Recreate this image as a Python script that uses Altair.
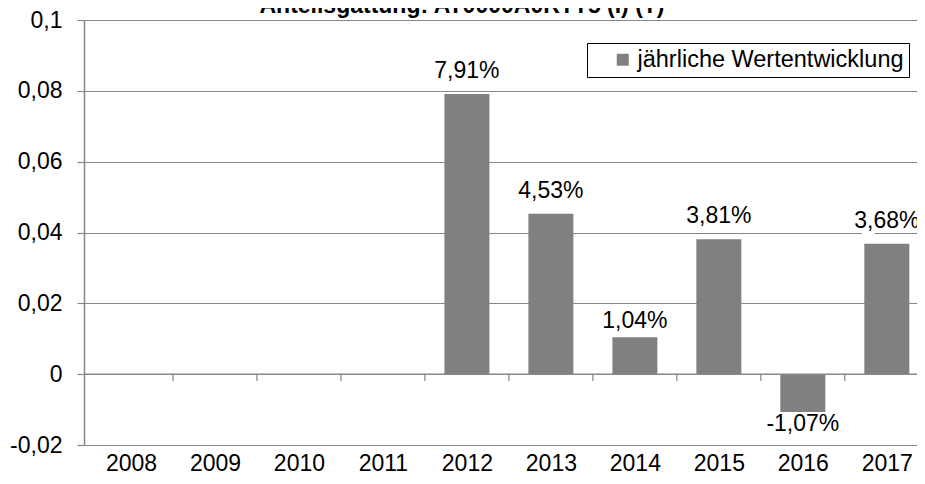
import altair as alt
import pandas as pd

# ---- data ----
years = [2008, 2009, 2010, 2011, 2012, 2013, 2014, 2015, 2016, 2017]
values = [None, None, None, None, 0.0791, 0.0453, 0.0104, 0.0381, -0.0107, 0.0368]
series_name = "jährliche Wertentwicklung"
title_text = "Anteilsgattung: AT0000A0RTT5 (I) (T)"
y_ticks = [-0.02, 0, 0.02, 0.04, 0.06, 0.08, 0.1]

FONT = "Liberation Sans"
GREY = "#878787"
BAR = "#808080"

PLOT_W = 833
STEP = 85

df = pd.DataFrame({"year": years, "value": values})
df["series"] = series_name
df["label"] = [
    (f"{v * 100:.2f}%".replace(".", ",") if v is not None else "") for v in values
]
bars_df = df.dropna(subset=["value"])

# one year = 85 px; the last category runs to the right edge of the page
x_scale = alt.Scale(domain=[2007.5, 2007.5 + PLOT_W / STEP], nice=False, zero=False)
x_enc = alt.X(
    "year:Q",
    scale=x_scale,
    axis=alt.Axis(
        values=years, format="d", labelFlush=False, labelOverlap=False,
        domain=False, ticks=False, grid=False, labelPadding=7,
        labelFontSize=23, labelFont=FONT, labelColor="black", title=None,
    ),
)
y_scale = alt.Scale(domain=[-0.02, 0.1], nice=False, zero=False)

bars = alt.Chart(bars_df).mark_bar(width=45).encode(
    x=x_enc,
    y=alt.Y(
        "value:Q",
        scale=y_scale,
        axis=alt.Axis(
            values=y_ticks,
            labelExpr="replace(toString(datum.value), '.', ',')",
            grid=True, gridColor=GREY, gridWidth=1.2,
            domainColor=GREY, domainWidth=1.5,
            tickColor=GREY, tickSize=7, tickWidth=1.2,
            labelPadding=15, labelFontSize=23, labelFont=FONT, labelColor="black",
            title=None,
        ),
    ),
    color=alt.Color(
        "series:N",
        scale=alt.Scale(range=[BAR]),
        legend=alt.Legend(
            title=None, orient="none", legendX=503, legendY=23,
            strokeColor="black", fillColor="white", padding=5,
            symbolType="square", symbolSize=144, symbolOffset=19,
            symbolStrokeWidth=0, labelOffset=3, labelLimit=500,
            labelFontSize=23.5, labelFont=FONT, labelColor="black",
        ),
    ),
)

zero_line = alt.Chart(pd.DataFrame({"z": [0]})).mark_rule(
    color=GREY, strokeWidth=1.5
).encode(y=alt.Y("z:Q", scale=y_scale, title=None))

band_ticks = alt.Chart(df).transform_calculate(
    boundary="datum.year + 0.5"
).mark_rule(color=GREY, strokeWidth=1.2).encode(
    x=alt.X("boundary:Q", scale=x_scale, title=None),
    y=alt.datum(0),
    y2=alt.datum(-0.0019),
)

pos = alt.Chart(bars_df).transform_filter("datum.value > 0 && datum.year != 2014")
low = alt.Chart(bars_df).transform_filter("datum.year == 2014")
neg = alt.Chart(bars_df).transform_filter("datum.value < 0")
txt = dict(fontSize=23, font=FONT, align="center", baseline="alphabetic")
enc = dict(x=alt.X("year:Q", scale=x_scale, title=None), y=alt.Y("value:Q", title=None), text="label:N")

pos_halo = pos.mark_text(dy=-16, color="white", stroke="white", strokeWidth=9, **txt).encode(**enc)
pos_text = pos.mark_text(dy=-16, color="black", **txt).encode(**enc)
low_text = low.mark_text(dy=-9, color="black", **txt).encode(**enc)
neg_text = neg.mark_text(dy=19, color="black", **txt).encode(**enc)

title = alt.Chart(pd.DataFrame({"t": [title_text]})).mark_text(
    fontSize=23, font=FONT, fontWeight="bold", align="center", baseline="alphabetic", color="black"
).encode(text="t:N", x=alt.value(378), y=alt.value(-7))

chart = alt.layer(
    bars, zero_line, band_ticks, pos_halo, pos_text, low_text, neg_text, title
).properties(
    width=PLOT_W,
    height=425,
    padding={"left": 76, "top": 12, "right": 0, "bottom": 26},
    autosize=alt.AutoSizeParams(type="none"),
).configure_view(stroke=None)

chart.save("out.html", embed_options={"renderer": "svg", "actions": False})
